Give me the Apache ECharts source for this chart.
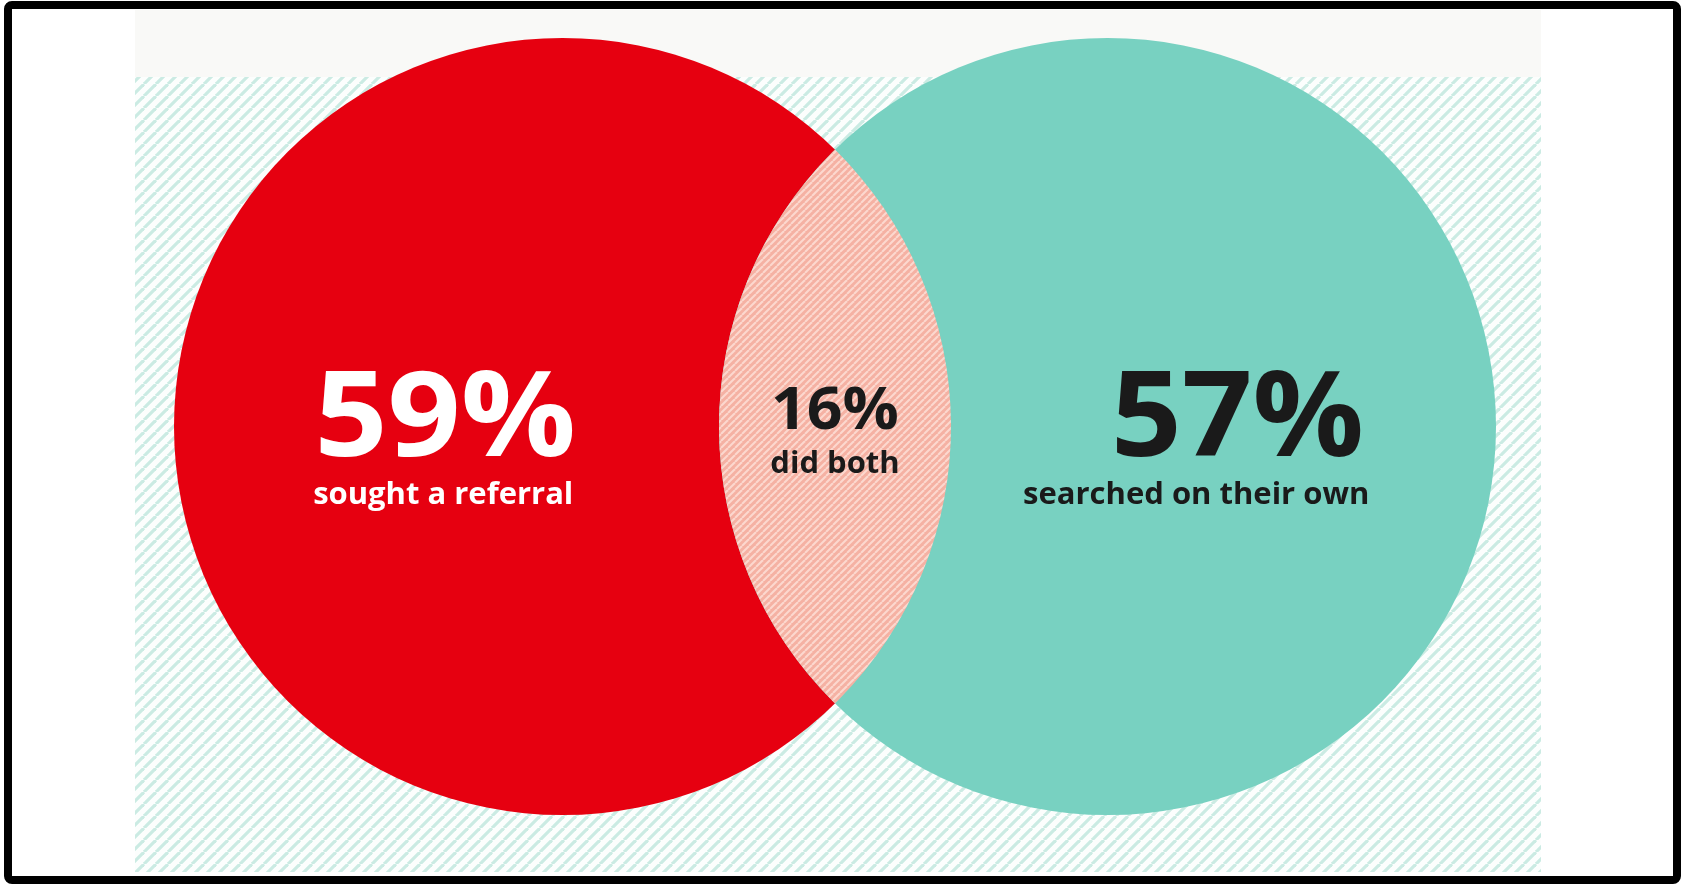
<!DOCTYPE html>
<html>
<head>
<meta charset="utf-8">
<script src="https://cdn.jsdelivr.net/npm/echarts@6/dist/echarts.min.js"></script>
<style>
  html, body { margin: 0; padding: 0; background: #ffffff; }
  #chart { width: 1681px; height: 884px; }
</style>
</head>
<body>
<div id="chart"></div>
<script>
// Survey results: how people found a provider
const setNames = ['sought a referral', 'searched on their own'];
const setValues = [59, 57];
const overlapName = 'did both';
const overlapValue = 16;

const setColors = ['#e60010', '#78d1c1'];
const labelColors = ['#ffffff', '#1a1a1a'];
const FONT = '"Open Sans", Lato, sans-serif';

// Diagonal stripe tile used as a repeating fill
function stripeTile(period, bg, fg, width) {
  const c = document.createElement('canvas');
  c.width = period; c.height = period;
  const ctx = c.getContext('2d');
  ctx.fillStyle = bg;
  ctx.fillRect(0, 0, period, period);
  ctx.strokeStyle = fg;
  ctx.lineWidth = width;
  for (let k = -1; k <= 1; k++) {
    ctx.beginPath();
    ctx.moveTo(k * period, period);
    ctx.lineTo(k * period + period, 0);
    ctx.stroke();
  }
  return c;
}

const panelHatch = { image: stripeTile(12, '#fcfefd', '#cbebe3', 3.2), repeat: 'repeat' };
const lensHatch = { image: stripeTile(7, '#f5b1a3', '#fcd8cf', 2), repeat: 'repeat' };

// one row per set (side 0 = left, 1 = right) plus the overlap row
const seriesData = setValues.map((v, i) => [i, v, i]);
seriesData.push([0.5, overlapValue, 2]);

// text element stretched slightly wider than the font's natural width
function label(text, x, y, size, color, align, stretch) {
  return {
    type: 'text', z2: 10, x: x, y: y, scaleX: stretch || 1,
    style: { text: text, x: 0, y: 0, font: 'bold ' + size + 'px ' + FONT,
             fill: color, align: align, verticalAlign: 'middle' }
  };
}

function renderItem(params, api) {
  const cs = params.coordSys;
  const r = cs.height / 2;
  const cy = cs.y + r;
  const cxL = cs.x + r;
  const cxR = cs.x + cs.width - r;
  const kind = api.value(2);
  const value = api.value(1);

  if (kind === 0 || kind === 1) {
    const cx = kind === 0 ? cxL : cxR;
    const bigX = kind === 0 ? cx - 0.302 * r : cx + 0.660 * r;
    const smallX = kind === 0 ? cx - 0.307 * r : cx + 0.674 * r;
    const align = kind === 0 ? 'center' : 'right';
    const stretch = kind === 0 ? 1.075 : 1.04;
    return {
      type: 'group',
      children: [
        { type: 'circle', shape: { cx: cx, cy: cy, r: r }, style: { fill: setColors[kind] } },
        label(value + '%', bigX, cy - 4, 119, labelColors[kind], align, stretch),
        label(setNames[kind], smallX, cy + 69, 31, labelColors[kind], align, 1)
      ]
    };
  }

  // overlap lens between the two circles
  const d = cxR - cxL;
  const h = Math.sqrt(r * r - (d / 2) * (d / 2));
  const xm = (cxL + cxR) / 2;
  const path = 'M' + xm + ' ' + (cy - h) +
    ' A' + r + ' ' + r + ' 0 0 1 ' + xm + ' ' + (cy + h) +
    ' A' + r + ' ' + r + ' 0 0 1 ' + xm + ' ' + (cy - h) + ' Z';
  return {
    type: 'group',
    children: [
      { type: 'path', shape: { pathData: path }, style: { fill: lensHatch } },
      label(value + '%', xm, cy - 14, 59, '#1a1a1a', 'center', 1.06),
      label(overlapName, xm, cy + 38, 31, '#1a1a1a', 'center', 1)
    ]
  };
}

const chart = echarts.init(document.getElementById('chart'), null, { renderer: 'canvas' });
chart.setOption({
  animation: false,
  backgroundColor: '#ffffff',
  grid: { left: 174, top: 38, width: 1322, height: 777 },
  xAxis: { type: 'value', min: 0, max: 1, show: false },
  yAxis: { type: 'value', min: 0, max: 100, show: false },
  graphic: [
    { type: 'rect', z: -10, shape: { x: 135, y: 10, width: 1406, height: 67 }, style: { fill: '#f9f9f7' } },
    { type: 'rect', z: -10, shape: { x: 135, y: 77, width: 1406, height: 795 }, style: { fill: panelHatch } },
    { type: 'rect', z: 100, shape: { x: 8, y: 5, width: 1669, height: 875, r: 4 },
      style: { fill: 'none', stroke: '#000000', lineWidth: 8 } }
  ],
  series: [{
    type: 'custom',
    coordinateSystem: 'cartesian2d',
    renderItem: renderItem,
    data: seriesData,
    encode: { x: 0, y: 1 },
    silent: true
  }]
});
</script>
</body>
</html>
